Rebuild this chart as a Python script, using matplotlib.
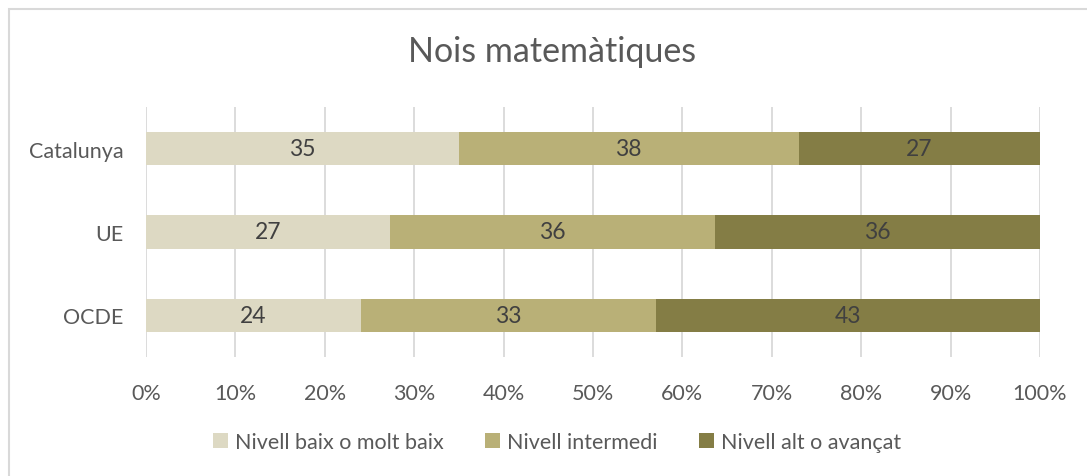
import numpy as np
import matplotlib.pyplot as plt
from matplotlib.patches import Rectangle, Patch

plt.rcParams.update({
    "font.family": ["Lato", "DejaVu Sans"],
    "font.size": 15.5,
})

# ---------------- data ----------------
CATEGORIES = ["Catalunya", "UE", "OCDE"]
SERIES = ["Nivell baix o molt baix", "Nivell intermedi", "Nivell alt o avançat"]
BAIX = [35, 27, 24]
INTERMEDI = [38, 36, 33]
ALT = [27, 36, 43]
TICK_LABELS = ["0%", "10%", "20%", "30%", "40%", "50%", "60%", "70%", "80%", "90%", "100%"]

COLORS = ["#DDD9C3", "#B9B077", "#847D45"]
TXT = "#595959"

vals = np.array([BAIX, INTERMEDI, ALT], dtype=float)
shares = vals / vals.sum(axis=0)  # 100% stacked

fig = plt.figure(figsize=(10.87, 4.77), dpi=100)
ax = fig.add_axes([146 / 1087, 1 - 358 / 477, (1040 - 146) / 1087, 250 / 477])

# chart frame (cropped on right/bottom)
fig.patches.append(Rectangle((9 / 1087, -0.1), 1.2, 1 - 10 / 477 + 0.1,
                             transform=fig.transFigure, fill=False,
                             edgecolor="#D9D9D9", linewidth=1.5))

y = np.arange(len(CATEGORIES))[::-1]
left = np.zeros(len(CATEGORIES))
for i, name in enumerate(SERIES):
    ax.barh(y, shares[i], left=left, height=0.4, color=COLORS[i],
            label=name, zorder=2)
    for j in range(len(CATEGORIES)):
        ax.text(left[j] + shares[i][j] / 2, y[j], f"{int(vals[i][j])}",
                ha="center", va="center", fontsize=16.5, color="#404040", zorder=3)
    left += shares[i]

ax.set_xlim(0, 1)
ax.set_ylim(-0.5, 2.5)
ax.set_xticks(np.linspace(0, 1, 11))
ax.set_xticklabels(TICK_LABELS, color=TXT, fontsize=15.5)
ax.set_yticks(y)
ax.set_yticklabels(CATEGORIES, color=TXT, fontsize=15.5)
ax.tick_params(axis="x", length=0, pad=19)
ax.tick_params(axis="y", length=0, pad=16)
ax.grid(axis="x", color="#D9D9D9", linewidth=1.3, zorder=0)
for s in ax.spines.values():
    s.set_visible(False)

fig.text(552 / 1087, 1 - 52 / 477, "Nois matemàtiques", ha="center", va="center",
         fontsize=24.5, color=TXT)

handles = [Patch(facecolor=c, edgecolor="none") for c in COLORS]
fig.legend(handles, SERIES, loc="center", bbox_to_anchor=(557 / 1087, 1 - 443 / 477),
           ncol=3, frameon=False, fontsize=15.5, labelcolor=TXT,
           handlelength=0.7, handleheight=0.7, handletextpad=0.35, columnspacing=1.9)

fig.savefig("out.png", dpi=100)
